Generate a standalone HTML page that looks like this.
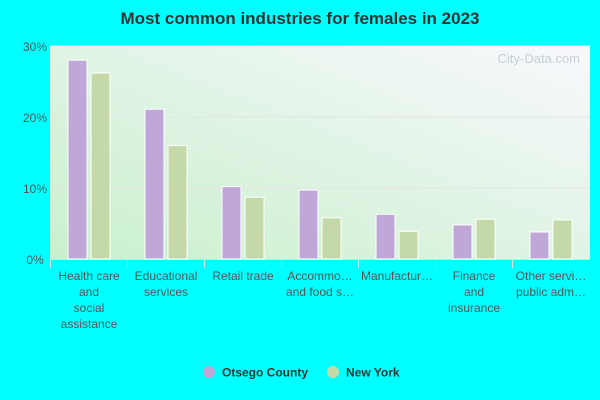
<!DOCTYPE html>
<html><head><meta charset="utf-8"><style>
body{margin:0;background:#00ffff;}
svg{display:block;font-family:"Liberation Sans",Arial,sans-serif;}
</style></head><body>
<svg width="600" height="400" viewBox="0 0 600 400">
<defs>
<linearGradient id="bg" x1="0" y1="1" x2="1" y2="0">
<stop offset="0" stop-color="#c8f0cc"/><stop offset="1" stop-color="#f8f8fd"/>
</linearGradient>
</defs>
<text x="300" y="24" text-anchor="middle" font-size="17" font-weight="bold" fill="#333">Most common industries for females in 2023</text>
<rect x="50" y="46" width="540" height="213" fill="url(#bg)"/>
<text x="580" y="63" text-anchor="end" font-size="13" fill="#b0c0c8" opacity="0.7">City-Data.com</text>
<g id="grid"></g><g id="bars"></g><g id="xlabels"></g>
<g>
<circle cx="209" cy="372" r="6" fill="#bfa8d8"/>
<text x="222" y="376.5" font-size="12" font-weight="bold" fill="#333">Otsego County</text>
<circle cx="333" cy="372" r="6" fill="#c5d9a8"/>
<text x="346" y="376.5" font-size="12" font-weight="bold" fill="#333">New York</text>
</g>
</svg>
<script>
const categories=[["Health care","and","social","assistance"],["Educational","services"],["Retail trade"],["Accommo…","and food s…"],["Manufactur…"],["Finance","and","insurance"],["Other servi…","public adm…"]];
const otsegoValues=[28.0,21.1,10.2,9.7,6.3,4.8,3.8];
const nyValues=[26.2,16.0,8.7,5.8,3.9,5.6,5.5];
const yTicks=[0,10,20,30];
const NS="http://www.w3.org/2000/svg";
const L=50,T=46,B=259,GW=77;
const y=v=>B-(v/30)*(B-T);
function mk(tag,attrs,parent){const e=document.createElementNS(NS,tag);for(const k in attrs)e.setAttribute(k,attrs[k]);parent.appendChild(e);return e;}
const grid=document.getElementById('grid'),bars=document.getElementById('bars'),xl=document.getElementById('xlabels');
yTicks.forEach(t=>{
 if(t>0){const g=mk('line',{x1:L,x2:590,y1:y(t),y2:y(t),stroke:'#e4e4e4','stroke-width':1},grid);
 
 }
 const tx=mk('text',{x:35,y:y(t)+5,'text-anchor':'middle','font-size':12,fill:'#555'},grid);
 tx.textContent=t+'%';
 
 
});
const ax=mk('line',{x1:L,x2:590,y1:B+0.5,y2:B+0.5,stroke:'#ddd'},grid);


categories.forEach((c,i)=>{
 const x0=L+i*GW;
 const tk=mk('line',{x1:x0+0.5,x2:x0+0.5,y1:B,y2:B+9,stroke:'#ddd'},xl);
 
 
 const b1=mk('rect',{x:x0+18,y:y(otsegoValues[i]),width:19,height:B-y(otsegoValues[i]),fill:'#bfa8d8',stroke:'#fff','stroke-width':1},bars);
 
 
 const b2=mk('rect',{x:x0+41,y:y(nyValues[i]),width:19,height:B-y(nyValues[i]),fill:'#c5d9a8',stroke:'#fff','stroke-width':1},bars);
 
 
 c.forEach((ln,j)=>{
  const t=mk('text',{x:x0+39,y:280+j*16,'text-anchor':'middle','font-size':12,fill:'#555'},xl);
  t.textContent=ln;
  
  
 });
});
</script>
</body></html>
